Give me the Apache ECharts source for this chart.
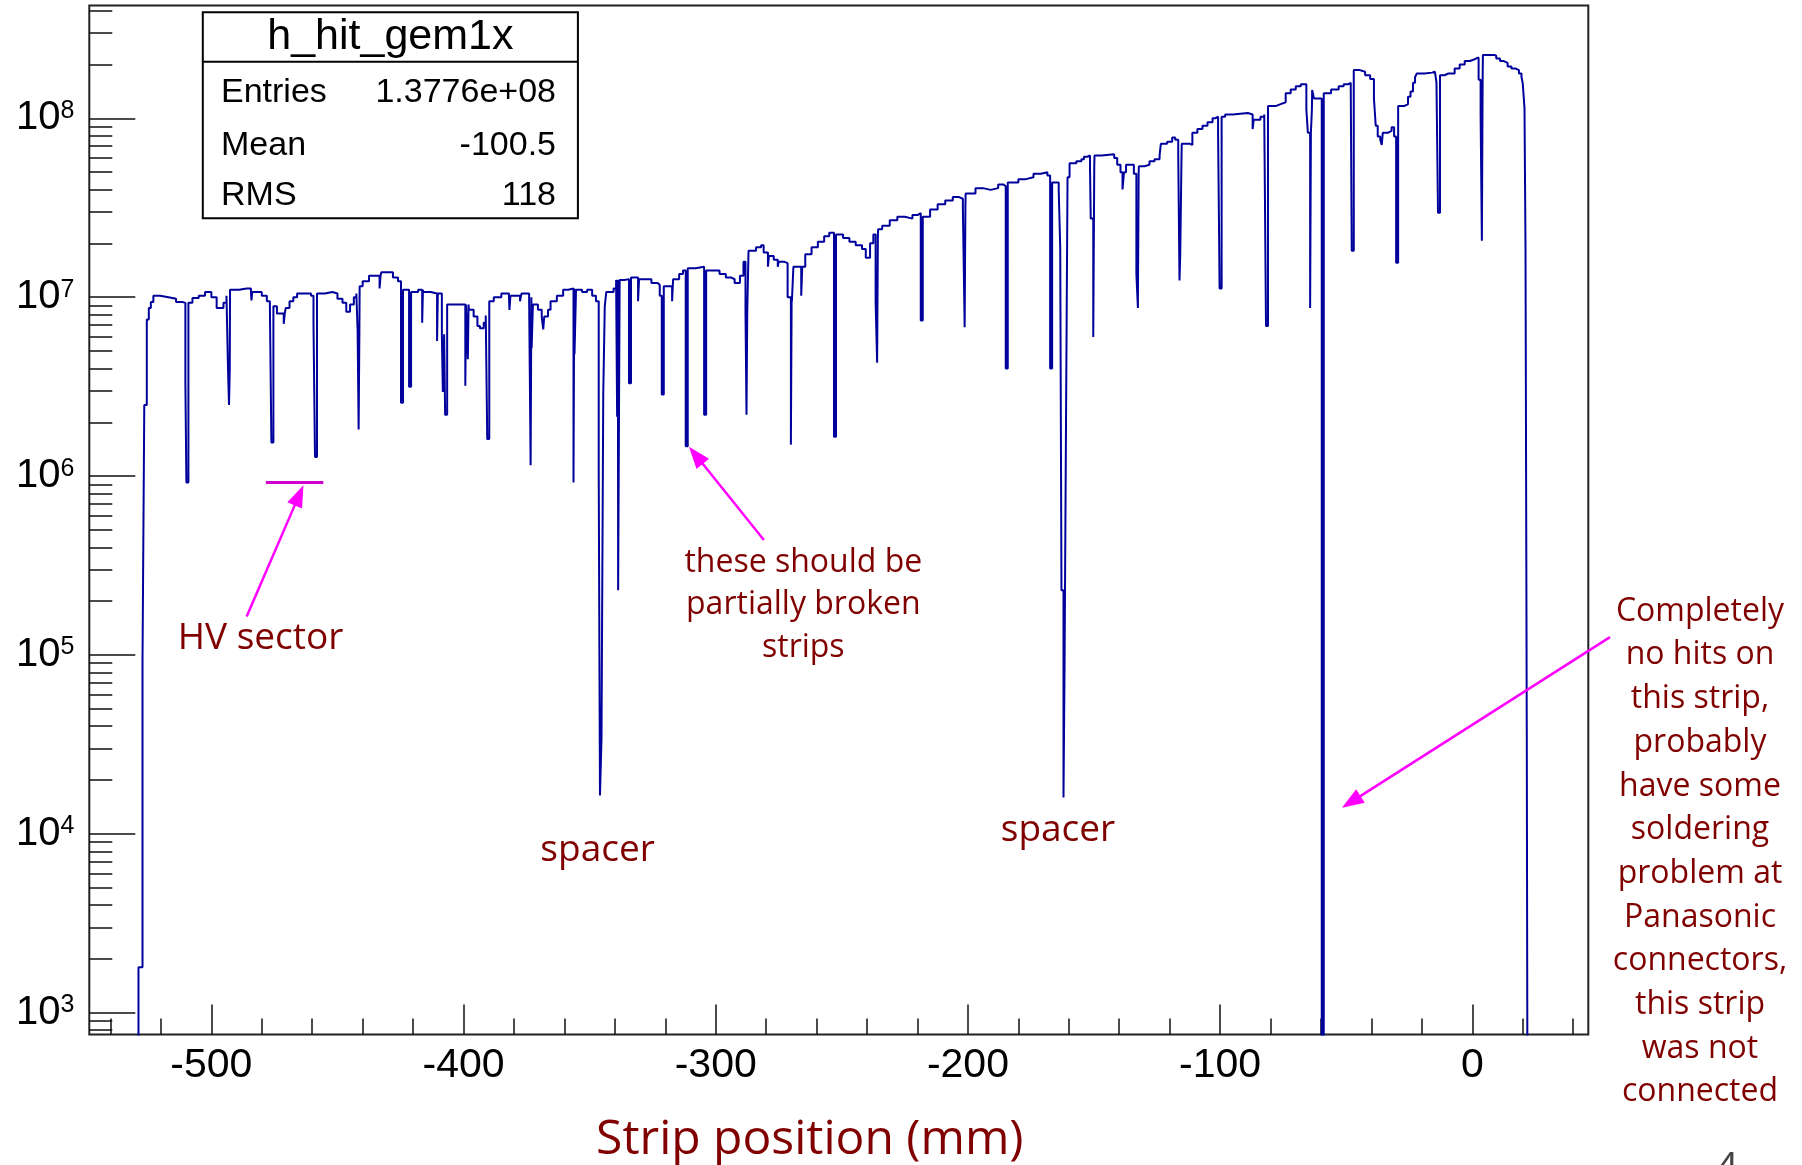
<!DOCTYPE html>
<html><head><meta charset="utf-8">
<script src="https://cdn.jsdelivr.net/npm/echarts@6/dist/echarts.min.js"></script>
<style>html,body{margin:0;padding:0;background:#fff}#c{width:1802px;height:1165px}</style>
</head><body><div id="c"></div>
<script>
// ---------------- data ----------------
// axis ticks
const xMajorTicks = [-500, -400, -300, -200, -100, 0];
const xMinorTicks = [-540, -520, -480, -460, -440, -420, -380, -360, -340, -320, -280, -260, -240, -220,
  -180, -160, -140, -120, -80, -60, -40, -20, 20, 40];
const yMajorTicks = [1e3, 1e4, 1e5, 1e6, 1e7, 1e8];
const yMinorTicks = [800, 900,
  2e3, 3e3, 4e3, 5e3, 6e3, 7e3, 8e3, 9e3,
  2e4, 3e4, 4e4, 5e4, 6e4, 7e4, 8e4, 9e4,
  2e5, 3e5, 4e5, 5e5, 6e5, 7e5, 8e5, 9e5,
  2e6, 3e6, 4e6, 5e6, 6e6, 7e6, 8e6, 9e6,
  2e7, 3e7, 4e7, 5e7, 6e7, 7e7, 8e7, 9e7,
  2e8, 3e8, 4e8];

// upper envelope of the histogram: left edge of each step (mm) and its count
const profileX = [-548.4, -528.9, -527.3, -526.6, -525.6, -524.8, -524.0, -523.0, -520.3, -517.0, -514.0, -511.5, -510.3,
  -509.1, -507.5, -505.0, -502.5, -500.0, -497.9, -495.2, -494.0, -493.4, -492.6, -489.0, -486.0, -484.3, -480.0,
  -478.0, -476.8, -475.4, -474.0, -470.5, -469.0, -467.5, -466.0, -460.5, -459.5, -458.1, -455.0, -452.0, -450.0,
  -448.0, -446.5, -445.0, -443.5, -442.5, -442.0, -441.2, -440.0, -437.5, -432.6, -428.0, -426.0, -424.0, -420.8,
  -418.0, -416.0, -413.0, -408.6, -406.5, -397.9, -396.0, -394.5, -393.5, -392.0, -391.2, -389.8, -388.0, -385.0,
  -382.0, -377.0, -374.0, -372.5, -370.5, -369.0, -366.5, -365.5, -363.0, -360.5, -358.5, -355.4, -353.0, -351.0,
  -349.0, -347.5, -343.4, -340.5, -339.5, -336.0, -333.6, -330.4, -325.5, -323.0, -322.2, -320.6, -316.9, -314.5,
  -313.0, -311.1, -308.0, -303.8, -298.5, -296.0, -294.0, -292.5, -290.4, -289.0, -287.0, -284.0, -282.0, -281.0,
  -278.9, -277.0, -275.0, -273.0, -271.5, -269.8, -269.2, -264.5, -262.0, -259.5, -257.0, -255.0, -252.3, -249.5,
  -247.0, -244.5, -242.0, -240.5, -238.8, -237.5, -235.6, -234.0, -231.0, -228.0, -225.0, -222.0, -220.0, -217.9,
  -215.0, -212.0, -209.0, -206.0, -203.5, -202.0, -200.9, -197.0, -194.0, -191.0, -188.0, -186.0, -184.2, -180.0,
  -177.0, -174.0, -171.0, -168.5, -166.6, -164.0, -163.4, -159.7, -157.0, -155.0, -154.0, -152.5, -151.6, -149.8,
  -147.0, -142.0, -140.8, -139.5, -137.3, -134.2, -132.2, -130.0, -128.0, -126.0, -124.0, -123.5, -121.0, -119.0,
  -117.8, -116.6, -115.2, -112.0, -111.0, -109.0, -107.0, -105.0, -103.0, -102.0, -100.8, -99.4, -98.0, -95.0,
  -89.0, -86.7, -84.0, -82.5, -81.0, -78.0, -76.0, -74.0, -72.0, -70.0, -68.0, -65.8, -63.5, -62.8, -58.9, -56.0,
  -53.0, -51.0, -49.3, -48.2, -47.0, -44.6, -42.5, -40.5, -39.0, -38.3, -37.5, -36.5, -35.5, -33.5, -32.0, -31.0,
  -29.4, -27.0, -25.5, -24.5, -23.5, -22.7, -22.0, -19.0, -16.0, -14.8, -14.2, -12.8, -11.0, -9.5, -9.0, -7.0, -5.0,
  -3.0, -1.0, 1.0, 2.5, 4.2, 8.7, 9.5, 11.0, 12.5, 14.0, 15.5, 17.0, 18.5, 19.5, 20.0, 20.7, 21.1, 21.6, 22.2];
const profileY = [1, 1.8e3, 9.3e4, 2.5e6, 7.5e6, 8.7e6, 9.4e6, 1.02e7, 1.0e7, 9.8e6, 9.4e6, 9.3e6, 3.3e6,
  9.3e6, 9.9e6, 1.02e7, 1.07e7, 1.0e7, 8.7e6, 9.3e6, 1.02e7, 4.0e6, 1.1e7, 1.12e7, 1.12e7, 1.07e7, 1.02e7,
  9.5e6, 9.1e6, 8.9e6, 8.1e6, 8.7e6, 9.5e6, 1.0e7, 1.05e7, 1.02e7, 7.1e6, 1.05e7, 1.07e7, 1.05e7, 9.8e6,
  9.3e6, 8.3e6, 9.1e6, 1.0e7, 1.05e7, 6.5e6, 1.15e7, 1.23e7, 1.32e7, 1.38e7, 1.29e7, 1.23e7, 1.1e7, 1.07e7,
  1.1e7, 1.07e7, 1.05e7, 6.2e6, 9.1e6, 8.5e6, 7.8e6, 6.9e6, 6.7e6, 7.2e6, 7.9e6, 9.5e6, 1.0e7, 1.05e7,
  1.02e7, 1.05e7, 1.0e7, 9.1e6, 8.5e6, 7.8e6, 8.5e6, 9.5e6, 1.02e7, 1.1e7, 1.12e7, 1.1e7, 1.07e7, 1.1e7,
  1.02e7, 9.5e6, 1.07e7, 1.12e7, 1.25e7, 1.26e7, 1.29e7, 1.26e7, 1.2e7, 1.17e7, 1.02e7, 1.15e7, 1.26e7, 1.35e7,
  1.41e7, 1.45e7, 1.48e7, 1.41e7, 1.35e7, 1.29e7, 1.26e7, 1.2e7, 1.32e7, 1.58e7, 1.82e7, 1.9e7, 1.95e7, 1.78e7,
  1.7e7, 1.62e7, 1.58e7, 1.55e7, 1.0e7, 9.5e6, 1.48e7, 1.74e7, 1.9e7, 2.04e7, 2.19e7, 2.29e7, 2.24e7, 2.14e7,
  2.04e7, 1.95e7, 1.86e7, 1.66e7, 2.0e7, 2.24e7, 2.4e7, 2.51e7, 2.69e7, 2.82e7, 2.75e7, 2.88e7, 2.95e7, 2.82e7,
  3.09e7, 3.31e7, 3.47e7, 3.63e7, 3.55e7, 3.16e7, 3.8e7, 4.07e7, 3.98e7, 4.07e7, 4.27e7, 4.17e7, 4.37e7, 4.57e7,
  4.68e7, 4.9e7, 5.0e7, 4.79e7, 4.37e7, 3.98e7, 1.9e7, 5.6e7, 5.75e7, 5.9e7, 6.1e7, 6.2e7, 5.4e7, 6.2e7,
  6.3e7, 6.0e7, 5.5e7, 5.0e7, 5.5e7, 4.9e7, 5.4e7, 5.5e7, 5.75e7, 5.9e7, 6.2e7, 7.2e7, 7.4e7, 7.8e7,
  7.6e7, 6.2e7, 7.2e7, 7.1e7, 8.3e7, 8.7e7, 9.1e7, 9.5e7, 1.0e8, 1.02e8, 8.3e7, 1.02e8, 1.05e8, 1.07e8,
  1.05e8, 9.8e7, 1.02e8, 1.05e8, 1.17e8, 1.2e8, 1.23e8, 1.38e8, 1.45e8, 1.51e8, 1.55e8, 1.12e8, 1.44e8, 1.29e8, 1.38e8, 1.45e8,
  1.51e8, 1.55e8, 1.58e8, 1.51e8, 1.86e8, 1.82e8, 1.74e8, 1.66e8, 1.29e8, 9.1e7, 7.9e7, 7.6e7, 8.3e7, 8.5e7, 8.9e7, 7.9e7,
  1.17e8, 1.2e8, 1.32e8, 1.41e8, 1.58e8, 1.7e8, 1.78e8, 1.8e8, 1.82e8, 1.78e8, 1.58e8, 1.74e8, 1.78e8, 1.74e8, 1.78e8, 1.9e8, 2.0e8,
  2.09e8, 2.14e8, 2.19e8, 1.64e8, 2.26e8, 2.24e8, 2.16e8, 2.09e8, 2.04e8, 1.95e8, 1.9e8, 1.86e8, 1.78e8, 1.7e8, 1.57e8, 1.14e8, 1.9e7, 3.9e4, 1];

// dead / weak strips: left edge (mm), width (mm), count
const dipX = [-509.9, -493.0, -484.1, -476.2, -471.3, -458.9, -441.6, -433.3, -424.8, -421.6, -416.4, -410.5, -408.2,
  -407.3, -399.3, -398.3, -390.6, -381.8, -377.6, -373.4, -373.0, -368.4, -356.4, -356.0, -346.4, -345.9, -345.3,
  -344.6, -344.0, -339.1, -338.7, -334.4, -330.8, -321.4, -317.3, -311.9, -304.6, -288.2, -287.8, -287.5, -279.3,
  -275.4, -270.2, -266.1, -253.1, -236.6, -236.0, -218.7, -201.3, -185.0, -167.4, -162.9, -162.1, -161.7, -161.1,
  -160.5, -151.3, -150.3, -138.7, -133.2, -132.6, -116.1, -115.8, -100.2, -87.1, -81.8, -65.2, -64.3, -64.0, -59.7,
  -47.8, -35.9, -30.2, -13.6, 3.3, 3.8];
const dipW = [0.8, 0.3, 0.3, 0.8, 0.4, 0.8, 0.3, 0.4, 0.8, 0.8, 0.3, 0.3, 0.5,
  0.8, 0.3, 0.3, 0.8, 0.4, 0.4, 0.3, 0.5, 0.4, 0.3, 0.6, 0.5, 0.6, 0.7,
  0.6, 0.6, 0.3, 0.6, 0.8, 0.4, 0.8, 0.4, 0.8, 0.8, 0.4, 0.3, 0.5, 0.4,
  0.4, 0.3, 0.4, 0.8, 0.6, 0.3, 0.8, 0.3, 0.8, 0.8, 0.8, 0.4, 0.6, 0.6,
  0.8, 1.0, 0.4, 0.6, 0.6, 0.3, 0.3, 0.5, 0.8, 0.4, 0.8, 0.9, 0.3, 0.4, 0.8,
  0.8, 0.4, 0.8, 0.8, 0.5, 0.3];
const dipY = [9.2e5, 2.5e6, 9.6e6, 1.54e6, 7.1e6, 1.28e6, 1.82e6, 1.12e7, 2.57e6, 3.16e6, 7.2e6, 5.7e6, 2.95e6,
  2.2e6, 3.2e6, 4.5e6, 1.61e6, 8.5e6, 9.5e6, 1.15e6, 5.2e6, 6.6e6, 9.2e5, 4.8e6, 1.04e6, 1.64e4, 3.4e4,
  2.9e6, 8.9e6, 2.15e6, 2.3e5, 3.3e6, 9.5e6, 2.86e6, 9.5e6, 1.47e6, 2.2e6, 8.3e6, 2.2e6, 8.3e6, 1.48e7,
  1.48e7, 1.5e6, 1.02e7, 1.66e6, 9.4e6, 4.3e6, 7.4e6, 6.8e6, 4.0e6, 4.0e6, 2.3e5, 1.6e4, 7.9e4, 2.04e6,
  4.68e7, 2.75e7, 6.0e6, 4.0e7, 1.35e7, 8.7e6, 1.24e7, 1.76e7, 1.12e7, 8.7e7, 6.9e6, 8.3e7, 8.7e6, 8.3e7, 1,
  1.82e7, 7.1e7, 1.56e7, 2.97e7, 1.05e8, 2.07e7];

// stats box text
const statsTitle = 'h_hit_gem1x';
const statsNames = ['Entries', 'Mean', 'RMS'];
const statsValues = ['1.3776e+08', '-100.5', '118'];

// annotations (data coordinates: mm, counts)
const hvBar = [[-478.4, 9.2e5], [-455.6, 9.2e5]];
const arrowFrom = [[-486.0, 1.64e5], [-280.9, 4.4e5], [54.6, 1.26e5]];
const arrowTo = [[-463.5, 8.9e5], [-310.6, 1.46e6], [-51.7, 1.4e4]];

// ---------------- chart ----------------
const X_MIN = -548.4, X_MAX = 46.0;
const Y_MIN = 757, Y_MAX = 4.276e8;
const GL = 89.3, GT = 5.4, GR = 1588.3, GB = 1034.5;
const LINE = '#00009c', RED = '#800000', MAG = '#ff00ff';

function buildHist() {
  const set = new Set();
  profileX.forEach(x => set.add(x));
  dipX.forEach((x, i) => { set.add(x); set.add(+(x + dipW[i]).toFixed(3)); });
  const xs = Array.from(set).sort((a, b) => a - b);
  const out = [];
  xs.forEach(b => {
    let v = null;
    for (let i = 0; i < dipX.length; i++) {
      if (b >= dipX[i] - 1e-6 && b < dipX[i] + dipW[i] - 1e-6) { v = dipY[i]; break; }
    }
    if (v === null) {
      v = profileY[0];
      for (let i = 0; i < profileX.length; i++) {
        if (profileX[i] <= b + 1e-6) v = profileY[i]; else break;
      }
    }
    out.push([b, v]);
  });
  out.push([X_MAX, 1]);
  return out;
}

const chart = echarts.init(document.getElementById('c'));
const tickStyle = { color: '#111', width: 1.5 };
chart.setOption({
  animation: false,
  grid: { left: GL, top: GT, width: GR - GL, height: GB - GT, show: true, borderColor: '#222', borderWidth: 2, backgroundColor: 'transparent' },
  xAxis: [
    { type: 'value', gridIndex: 0, min: X_MIN, max: X_MAX, position: 'bottom',
      axisLine: { show: false, onZero: false }, splitLine: { show: false },
      axisTick: { inside: true, length: 30, customValues: xMajorTicks, lineStyle: tickStyle },
      axisLabel: { customValues: xMajorTicks, fontFamily: 'Liberation Sans', fontSize: 41, color: '#000', margin: 11 } },
    { type: 'value', gridIndex: 0, min: X_MIN, max: X_MAX, position: 'bottom',
      axisLine: { show: false, onZero: false }, splitLine: { show: false },
      axisTick: { inside: true, length: 16, customValues: xMinorTicks, lineStyle: tickStyle },
      axisLabel: { show: false } }
  ],
  yAxis: [
    { type: 'log', logBase: 10, gridIndex: 0, min: Y_MIN, max: Y_MAX, position: 'left',
      axisLine: { show: false, onZero: false }, splitLine: { show: false },
      axisTick: { inside: true, length: 46, customValues: yMajorTicks, lineStyle: tickStyle },
      axisLabel: { customValues: yMajorTicks, margin: 15, color: '#000',
        formatter: v => '{b|10}{e|' + Math.round(Math.log10(v)) + '}',
        rich: {
          b: { fontFamily: 'Liberation Sans', fontSize: 40, lineHeight: 40, color: '#000', verticalAlign: 'bottom', padding: [9, 0, 0, 0] },
          e: { fontFamily: 'Liberation Sans', fontSize: 25, lineHeight: 25, color: '#000', verticalAlign: 'top' }
        } } },
    { type: 'log', logBase: 10, gridIndex: 0, min: Y_MIN, max: Y_MAX, position: 'left',
      axisLine: { show: false, onZero: false }, splitLine: { show: false },
      axisTick: { inside: true, length: 23, customValues: yMinorTicks, lineStyle: tickStyle },
      axisLabel: { show: false } }
  ],
  series: [{
    type: 'line', xAxisIndex: 0, yAxisIndex: 0, step: 'end', data: buildHist(),
    showSymbol: false, symbol: 'none', clip: true,
    lineStyle: { color: LINE, width: 2 }
  }]
});

// ---------------- overlay graphics ----------------
const toPx = p => chart.convertToPixel({ xAxisIndex: 0, yAxisIndex: 0 }, p);
function arrowEls(a, b) {
  const p0 = toPx(a), p1 = toPx(b);
  const dx = p1[0] - p0[0], dy = p1[1] - p0[1], L = Math.hypot(dx, dy);
  const ux = dx / L, uy = dy / L, nx = -uy, ny = ux;
  const HL = 22, HW = 8;
  const bx = p1[0] - ux * HL, by = p1[1] - uy * HL;
  return [
    { type: 'line', z: 100, shape: { x1: p0[0], y1: p0[1], x2: bx + ux * 3, y2: by + uy * 3 }, style: { stroke: MAG, lineWidth: 2.5 } },
    { type: 'polygon', z: 100, shape: { points: [[p1[0], p1[1]], [bx + nx * HW, by + ny * HW], [bx - nx * HW, by - ny * HW]] }, style: { fill: MAG } }
  ];
}
function txt(text, x, y, size, color, family, lh, align) {
  return { type: 'text', z: 100, x: x, y: y, style: {
    text: text, fill: color, fontSize: size, fontFamily: family, lineHeight: lh || size * 1.3,
    align: align || 'center', verticalAlign: 'middle', textAlign: align || 'center', textVerticalAlign: 'middle' } };
}
const g = [];
// stats box
const bx0 = 202.8, by0 = 12.3, bx1 = 577.9, by1 = 218.3;
g.push({ type: 'rect', z: 100, shape: { x: bx0, y: by0, width: bx1 - bx0, height: by1 - by0 }, style: { fill: '#fff', stroke: '#000', lineWidth: 2 } });
g.push({ type: 'line', z: 101, shape: { x1: bx0, y1: 61.7, x2: bx1, y2: 61.7 }, style: { stroke: '#000', lineWidth: 2 } });
g.push(txt(statsTitle, (bx0 + bx1) / 2, 37, 43, '#000', 'Liberation Sans'));
const rowY = [92.5, 145.5, 195.5];
statsNames.forEach((n, i) => {
  g.push(txt(n, 221, rowY[i], 34, '#000', 'Liberation Sans', 40, 'left'));
  g.push(txt(statsValues[i], 556, rowY[i], 34, '#000', 'Liberation Sans', 40, 'right'));
});
// HV sector bar
const hb0 = toPx(hvBar[0]), hb1 = toPx(hvBar[1]);
g.push({ type: 'line', z: 100, shape: { x1: hb0[0], y1: hb0[1], x2: hb1[0], y2: hb1[1] }, style: { stroke: '#d000d0', lineWidth: 3 } });
arrowFrom.forEach((a, i) => arrowEls(a, arrowTo[i]).forEach(e => g.push(e)));
// texts
g.push(txt('HV sector', 260.5, 638, 37, RED, 'Open Sans'));
g.push(txt('spacer', 597.6, 850, 37, RED, 'Open Sans'));
g.push(txt('spacer', 1058, 830, 37, RED, 'Open Sans'));
g.push(txt('these should be\npartially broken\nstrips', 803.3, 605, 32, RED, 'Open Sans', 42.5));
g.push(txt('Completely\nno hits on\nthis strip,\nprobably\nhave some\nsoldering\nproblem at\nPanasonic\nconnectors,\nthis strip\nwas not\nconnected', 1700, 852, 32, RED, 'Open Sans', 43.7));
g.push(txt('Strip position (mm)', 809.8, 1140, 48, RED, 'Open Sans'));
g.push({ type: 'text', z: 100, x: 1727, y: 1150, style: { text: '4', fill: '#444', fontSize: 40, fontFamily: 'Open Sans', align: 'center', verticalAlign: 'top', textAlign: 'center', textVerticalAlign: 'top' } });
chart.setOption({ graphic: { elements: g } });
</script>
</body></html>
